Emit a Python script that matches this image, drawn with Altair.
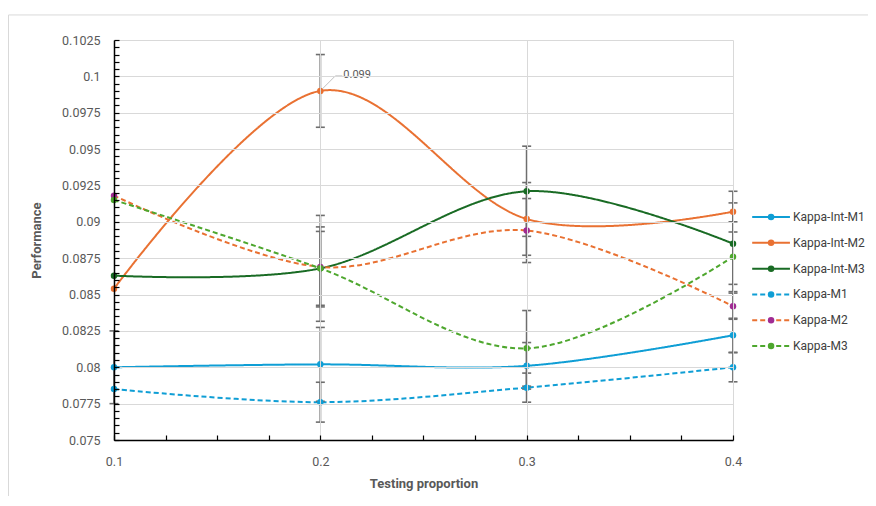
import altair as alt
import pandas as pd

# ---------------- data ----------------
x_vals = [0.1, 0.2, 0.3, 0.4]
series_names = ["Kappa-Int-M1", "Kappa-Int-M2", "Kappa-Int-M3", "Kappa-M1", "Kappa-M2", "Kappa-M3"]

int_m1 = [0.0800, 0.0802, 0.0801, 0.0822]
int_m2 = [0.0854, 0.0990, 0.0902, 0.0907]
int_m3 = [0.0863, 0.0868, 0.0921, 0.0885]
m1 = [0.0785, 0.0776, 0.0786, 0.0800]
m2 = [0.0918, 0.0869, 0.0894, 0.0842]
m3 = [0.0915, 0.0868, 0.0813, 0.0876]

# error bar half-widths (None = no visible bar)
err_int_m1 = [0.0025, 0.00254, 0.0016, 0.00117]
err_int_m2 = [None, 0.0025, 0.0025, 0.0014]
err_int_m3 = [None, 0.00364, 0.0031, 0.0028]
err_m1 = [None, 0.00137, 0.0010, 0.0010]
err_m2 = [None, 0.00275, 0.0022, 0.0009]
err_m3 = [None, 0.00254, 0.0026, 0.0024]

line_colors = ["#0F9ED5", "#E97132", "#196B24", "#0F9ED5", "#E97132", "#4EA72E"]
marker_colors = ["#0F9ED5", "#E97132", "#196B24", "#0F9ED5", "#A02B93", "#4EA72E"]
dash_styles = ["solid", "solid", "solid", "dashed", "dashed", "dashed"]

y_ticks = [0.075, 0.0775, 0.08, 0.0825, 0.085, 0.0875, 0.09, 0.0925, 0.095, 0.0975, 0.1, 0.1025]
y_minor = [round(0.075 + i * 0.0005, 4) for i in range(56)]
x_minor = [round(0.1 + i * 0.025, 3) for i in range(13)]

annot_x = 0.2
annot_y = 0.099
annot_label = "0.099"

# ---------------- tables ----------------
all_vals = [int_m1, int_m2, int_m3, m1, m2, m3]
all_errs = [err_int_m1, err_int_m2, err_int_m3, err_m1, err_m2, err_m3]
rows = []
for i, name in enumerate(series_names):
    for j, xv in enumerate(x_vals):
        rows.append(dict(series=name, order=i, x=xv, y=all_vals[i][j],
                         lc=line_colors[i], mc=marker_colors[i], dash=dash_styles[i]))
df = pd.DataFrame(rows)

erows = []
for i, name in enumerate(series_names):
    for j, xv in enumerate(x_vals):
        e = all_errs[i][j]
        if e is not None:
            v = all_vals[i][j]
            erows.append(dict(series=name, x=xv, lo=v - e, hi=v + e))
edf = pd.DataFrame(erows)

ann = pd.DataFrame([dict(x=annot_x, y=annot_y, label=annot_label)])

leg = pd.DataFrame([dict(series=n, idx=i, lc=line_colors[i], mc=marker_colors[i], dash=dash_styles[i],
                         x0=1.031, x1=1.092, xm=1.0615, xt=1.097)
                    for i, n in enumerate(series_names)])

# chart-area frame (in the legend layer's coordinate space)
frame = pd.DataFrame([dict(fx0=-0.1704, fx1=1.40, fy0=-7.83, fy1=12.0)])

FONT = "Roboto"
dash_scale = alt.Scale(domain=["solid", "dashed"], range=[[1, 0], [5, 3]])

xs = alt.Scale(domain=[0.1, 0.4], nice=False)
ys = alt.Scale(domain=[0.075, 0.1025], nice=False, zero=False)

main_x_axis = alt.Axis(values=x_vals, format=".1f", title="Testing proportion", grid=True,
                       gridColor="#D9D9D9", gridWidth=1, ticks=False, domainColor="#000000",
                       domainWidth=1.5, labelPadding=15, labelColor="#595959", labelFontSize=12.5,
                       labelFlush=False, labelFont=FONT, titleFont=FONT, titleFontSize=13,
                       titleFontWeight="bold", titleColor="#595959", titlePadding=10, zindex=1)
main_y_axis = alt.Axis(values=y_ticks, format=".4~f", title="Performance", grid=True,
                       gridColor="#D9D9D9", gridWidth=1, ticks=False, domainColor="#000000",
                       domainWidth=1.5, labelPadding=14, labelColor="#595959", labelFontSize=12.5,
                       labelFlush=False, labelFont=FONT, titleFont=FONT, titleFontSize=13,
                       titleFontWeight="bold", titleColor="#595959", titlePadding=18, zindex=1)
tick_x_axis = alt.Axis(orient="top", offset=-400, values=x_minor, labels=False, domain=False,
                       grid=False, ticks=True, tickSize=5, tickColor="#000000", tickWidth=1.2,
                       title=None, zindex=1)
tick_y_axis = alt.Axis(orient="right", offset=-619, values=y_minor, labels=False, domain=False,
                       grid=False, ticks=True, tickSize=5, tickColor="#000000", tickWidth=1.2,
                       title=None, zindex=1)

lines = alt.Chart(df).mark_line(interpolate="cardinal", strokeWidth=2).encode(
    x=alt.X("x:Q", scale=xs, axis=main_x_axis),
    y=alt.Y("y:Q", scale=ys, axis=main_y_axis),
    color=alt.Color("lc:N", scale=None),
    strokeDash=alt.StrokeDash("dash:N", scale=dash_scale, legend=None),
    detail="series:N",
    order="x:Q",
)

err_rule = alt.Chart(edf).mark_rule(color="#6E6E6E", strokeWidth=1.8).encode(
    x=alt.X("x:Q", scale=xs, axis=None),
    y=alt.Y("lo:Q", scale=ys, axis=None),
    y2="hi:Q",
)
cap_lo = alt.Chart(edf).mark_tick(orient="horizontal", size=9, thickness=1.6, color="#6E6E6E", opacity=1).encode(
    x=alt.X("x:Q", scale=xs, axis=None),
    y=alt.Y("lo:Q", scale=ys, axis=None),
)
cap_hi = alt.Chart(edf).mark_tick(orient="horizontal", size=9, thickness=1.6, color="#6E6E6E", opacity=1).encode(
    x=alt.X("x:Q", scale=xs, axis=None),
    y=alt.Y("hi:Q", scale=ys, axis=None),
)

points = alt.Chart(df).mark_point(filled=True, size=42, opacity=1, strokeWidth=0).encode(
    x=alt.X("x:Q", scale=xs, axis=tick_x_axis),
    y=alt.Y("y:Q", scale=ys, axis=tick_y_axis),
    fill=alt.Fill("mc:N", scale=None),
)

lead1 = alt.Chart(ann).mark_rule(color="#BFBFBF", strokeWidth=1, xOffset=2, yOffset=-2,
                                 x2Offset=15, y2Offset=-15).encode(
    x=alt.X("x:Q", scale=xs, axis=None), y=alt.Y("y:Q", scale=ys, axis=None), x2="x:Q", y2="y:Q")
lead2 = alt.Chart(ann).mark_rule(color="#BFBFBF", strokeWidth=1, xOffset=15, yOffset=-15,
                                 x2Offset=22, y2Offset=-15).encode(
    x=alt.X("x:Q", scale=xs, axis=None), y=alt.Y("y:Q", scale=ys, axis=None), x2="x:Q", y2="y:Q")
ann_text = alt.Chart(ann).mark_text(align="left", baseline="middle", dx=23, dy=-16, fontSize=11,
                                    font=FONT, color="#595959").encode(
    x=alt.X("x:Q", scale=xs, axis=None), y=alt.Y("y:Q", scale=ys, axis=None), text="label:N")

main = alt.layer(lines, err_rule, cap_lo, cap_hi, points, lead1, lead2, ann_text).resolve_axis(
    x="independent", y="independent")

lxs = alt.Scale(domain=[0, 1], nice=False, zero=False)
lys = alt.Scale(domain=[-6.86, 8.64], nice=False, zero=False, reverse=True)

frame_rect = alt.Chart(frame).mark_rect(fill="transparent", stroke="#D9D9D9", strokeWidth=1).encode(
    x=alt.X("fx0:Q", scale=lxs, axis=None), x2="fx1:Q",
    y=alt.Y("fy0:Q", scale=lys, axis=None), y2="fy1:Q",
)
leg_rule = alt.Chart(leg).mark_rule(strokeWidth=2).encode(
    x=alt.X("x0:Q", scale=lxs, axis=None), x2="x1:Q",
    y=alt.Y("idx:Q", scale=lys, axis=None),
    color=alt.Color("lc:N", scale=None),
    strokeDash=alt.StrokeDash("dash:N", scale=dash_scale, legend=None),
)
leg_pt = alt.Chart(leg).mark_point(filled=True, size=42, opacity=1, strokeWidth=0).encode(
    x=alt.X("xm:Q", scale=lxs, axis=None),
    y=alt.Y("idx:Q", scale=lys, axis=None),
    fill=alt.Fill("mc:N", scale=None),
)
leg_txt = alt.Chart(leg).mark_text(align="left", baseline="middle", fontSize=12, font=FONT,
                                   color="#404040").encode(
    x=alt.X("xt:Q", scale=lxs, axis=None),
    y=alt.Y("idx:Q", scale=lys, axis=None),
    text="series:N",
)
legend = alt.layer(frame_rect, leg_rule, leg_pt, leg_txt)

chart = alt.layer(main, legend).resolve_scale(x="independent", y="independent").properties(
    width=619, height=400,
    padding={"left": 106, "top": 32, "right": 135, "bottom": 56},
    autosize=alt.AutoSizeParams(type="none"),
    background="white",
).configure_view(stroke=None)

chart.save("out.html", embed_options={"renderer": "svg", "actions": False})
